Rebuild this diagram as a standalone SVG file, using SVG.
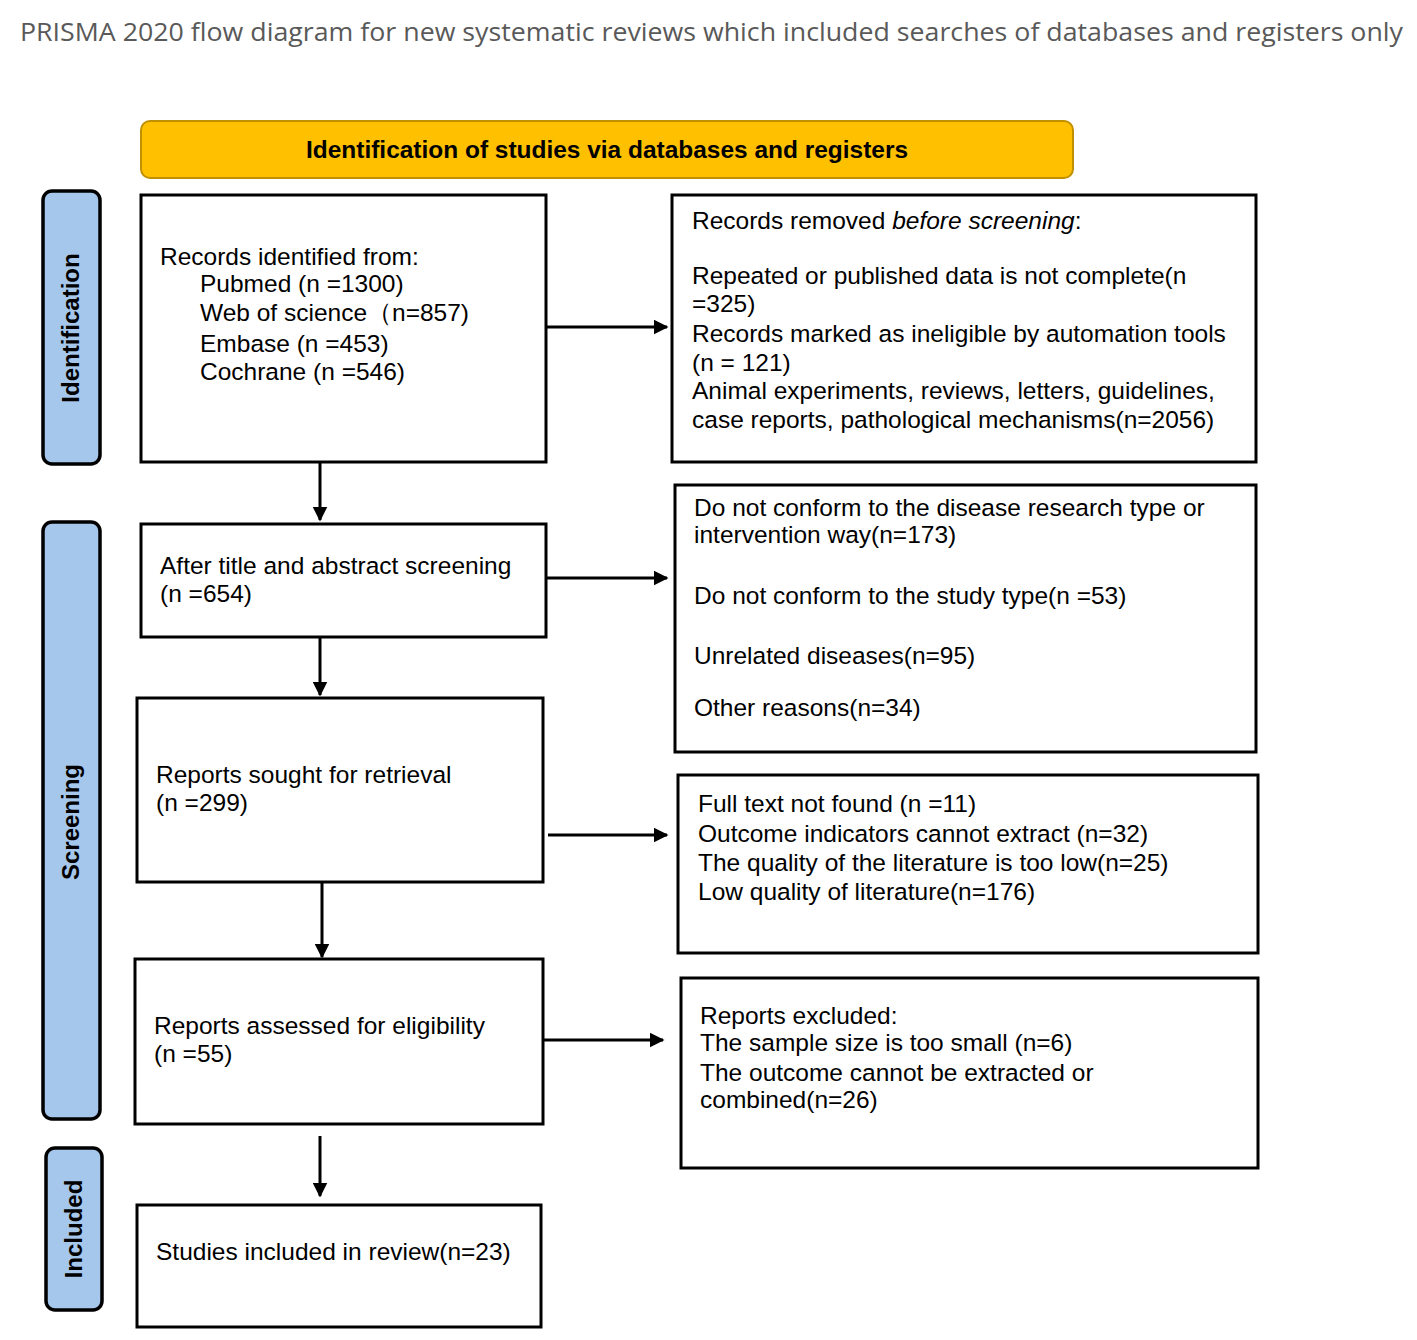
<svg xmlns="http://www.w3.org/2000/svg" width="1417" height="1340" viewBox="0 0 1417 1340">
<style>
.box{fill:#fff;stroke:#000;stroke-width:3}
.side{fill:#a6c7ec;stroke:#000;stroke-width:3.5}
.t{font-family:"Liberation Sans",Arial,sans-serif;font-size:24.5px;fill:#000}
.sl{font-family:"Liberation Sans",Arial,sans-serif;font-size:24px;font-weight:bold;fill:#000;text-anchor:middle}
.c{stroke:#000;stroke-width:3;fill:none}
</style>
<defs>
<marker id="ah" viewBox="0 0 10 10" refX="9" refY="5" markerWidth="5" markerHeight="5" orient="auto" markerUnits="strokeWidth">
<path d="M0,0 L10,5 L0,10 z" fill="#000"/>
</marker>
</defs>
<rect width="1417" height="1340" fill="#fff"/>
<text x="20" y="41" font-family="'Open Sans','Liberation Sans',sans-serif" font-size="26" fill="#595959" textLength="1383" lengthAdjust="spacingAndGlyphs">PRISMA 2020 flow diagram for new systematic reviews which included searches of databases and registers only</text>

<g id="banner">
<rect x="141" y="121" width="932" height="57" rx="9" fill="#ffc000" stroke="#c09000" stroke-width="2"/>
<text x="607" y="158" font-family="'Liberation Sans',Arial,sans-serif" font-size="24" font-weight="bold" text-anchor="middle" textLength="602" lengthAdjust="spacingAndGlyphs">Identification of studies via databases and registers</text>
</g>

<g id="side-identification">
<rect class="side" x="43" y="191" width="57" height="273" rx="9"/>
<text class="sl" transform="translate(79,328) rotate(-90)">Identification</text>
</g>
<g id="side-screening">
<rect class="side" x="43" y="522" width="57" height="597" rx="9"/>
<text class="sl" transform="translate(79,822) rotate(-90)">Screening</text>
</g>
<g id="side-included">
<rect class="side" x="46" y="1148" width="56" height="162" rx="9"/>
<text class="sl" transform="translate(82,1229) rotate(-90)">Included</text>
</g>

<g id="records-identified">
<rect class="box" x="141" y="195" width="405" height="267"/>
<text class="t" x="160" y="265">Records identified from:</text>
<text class="t" x="200" y="292">Pubmed (n =1300)</text>
<text class="t" x="200" y="321">Web of science（n=857)</text>
<text class="t" x="200" y="352">Embase (n =453)</text>
<text class="t" x="200" y="380">Cochrane (n =546)</text>
</g>

<g id="records-removed">
<rect class="box" x="672" y="195" width="584" height="267"/>
<text class="t" x="692" y="229">Records removed <tspan font-style="italic">before screening</tspan>:</text>
<text class="t" x="692" y="284">Repeated or published data is not complete(n</text>
<text class="t" x="692" y="312">=325)</text>
<text class="t" x="692" y="342">Records marked as ineligible by automation tools</text>
<text class="t" x="692" y="371">(n = 121)</text>
<text class="t" x="692" y="399">Animal experiments, reviews, letters, guidelines,</text>
<text class="t" x="692" y="428">case reports, pathological mechanisms(n=2056)</text>
</g>

<g id="title-abstract">
<rect class="box" x="141" y="524" width="405" height="113"/>
<text class="t" x="160" y="574">After title and abstract screening</text>
<text class="t" x="160" y="602">(n =654)</text>
</g>

<g id="excluded-screening">
<rect class="box" x="675" y="485" width="581" height="267"/>
<text class="t" x="694" y="516">Do not conform to the disease research type or</text>
<text class="t" x="694" y="543">intervention way(n=173)</text>
<text class="t" x="694" y="604">Do not conform to the study type(n =53)</text>
<text class="t" x="694" y="664">Unrelated diseases(n=95)</text>
<text class="t" x="694" y="716">Other reasons(n=34)</text>
</g>

<g id="reports-sought">
<rect class="box" x="137" y="698" width="406" height="184"/>
<text class="t" x="156" y="783">Reports sought for retrieval</text>
<text class="t" x="156" y="811">(n =299)</text>
</g>

<g id="not-retrieved">
<rect class="box" x="678" y="775" width="580" height="178"/>
<text class="t" x="698" y="812">Full text not found (n =11)</text>
<text class="t" x="698" y="842">Outcome indicators cannot extract (n=32)</text>
<text class="t" x="698" y="871">The quality of the literature is too low(n=25)</text>
<text class="t" x="698" y="900">Low quality of literature(n=176)</text>
</g>

<g id="reports-assessed">
<rect class="box" x="135" y="959" width="408" height="165"/>
<text class="t" x="154" y="1034">Reports assessed for eligibility</text>
<text class="t" x="154" y="1062">(n =55)</text>
</g>

<g id="reports-excluded">
<rect class="box" x="681" y="978" width="577" height="190"/>
<text class="t" x="700" y="1024">Reports excluded:</text>
<text class="t" x="700" y="1051">The sample size is too small (n=6)</text>
<text class="t" x="700" y="1081">The outcome cannot be extracted or</text>
<text class="t" x="700" y="1108">combined(n=26)</text>
</g>

<g id="studies-included">
<rect class="box" x="137" y="1205" width="404" height="122"/>
<text class="t" x="156" y="1260">Studies included in review(n=23)</text>
</g>

<g id="connectors">
<line class="c" x1="320" y1="462" x2="320" y2="520" marker-end="url(#ah)"/>
<line class="c" x1="320" y1="637" x2="320" y2="695" marker-end="url(#ah)"/>
<line class="c" x1="322" y1="882" x2="322" y2="957" marker-end="url(#ah)"/>
<line class="c" x1="320" y1="1136" x2="320" y2="1196" marker-end="url(#ah)"/>
<line class="c" x1="546" y1="327" x2="667" y2="327" marker-end="url(#ah)"/>
<line class="c" x1="546" y1="578" x2="667" y2="578" marker-end="url(#ah)"/>
<line class="c" x1="548" y1="835" x2="667" y2="835" marker-end="url(#ah)"/>
<line class="c" x1="544" y1="1040" x2="663" y2="1040" marker-end="url(#ah)"/>
</g>
</svg>
